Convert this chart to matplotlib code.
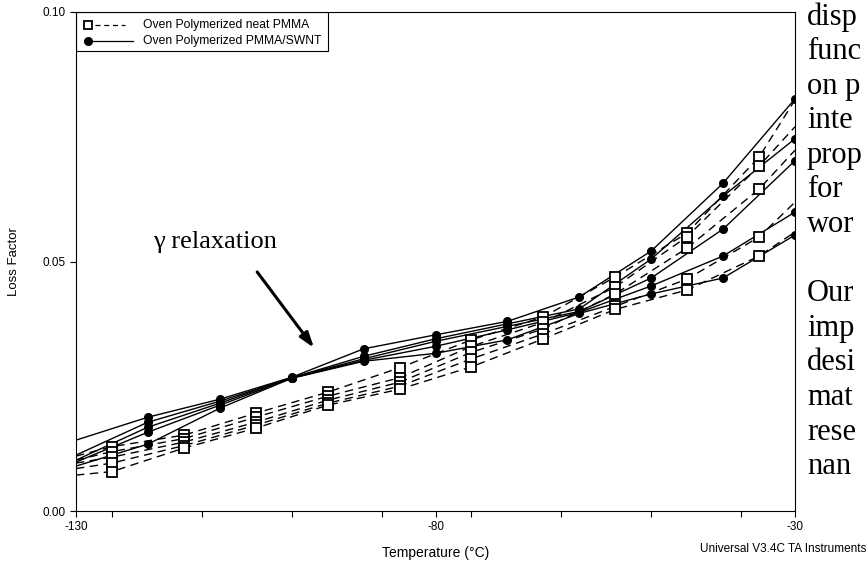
import matplotlib
matplotlib.use('Agg')
from matplotlib import pyplot as plt
from matplotlib.lines import Line2D
from matplotlib.patches import Rectangle
from matplotlib.ticker import MultipleLocator

# temperatures (deg C)
t_swnt = [-130, -120, -110, -100, -90, -80, -70, -60, -50, -40, -30]
t_neat = [-130, -125, -115, -105, -95, -85, -75, -65, -55, -45, -35, -30]

# loss factor, Oven Polymerized PMMA/SWNT (solid, filled circles)
swnt_1 = [0.0142, 0.0188, 0.0224, 0.0268, 0.0325, 0.0353, 0.0380, 0.0429, 0.0521, 0.0657, 0.0826]
swnt_2 = [0.0112, 0.0178, 0.0220, 0.0267, 0.0310, 0.0345, 0.0375, 0.0405, 0.0505, 0.0631, 0.0746]
swnt_3 = [0.0102, 0.0168, 0.0216, 0.0267, 0.0305, 0.0340, 0.0370, 0.0400, 0.0467, 0.0565, 0.0702]
swnt_4 = [0.0098, 0.0158, 0.0212, 0.0266, 0.0302, 0.0330, 0.0363, 0.0398, 0.0451, 0.0511, 0.0599]
swnt_5 = [0.0090, 0.0134, 0.0206, 0.0266, 0.0300, 0.0316, 0.0343, 0.0396, 0.0435, 0.0467, 0.0553]

# loss factor, Oven Polymerized neat PMMA (dashed, open squares)
neat_1 = [0.0110, 0.0129, 0.0152, 0.0196, 0.0238, 0.0287, 0.0343, 0.0389, 0.0469, 0.0557, 0.0709, 0.0824]
neat_2 = [0.0102, 0.0119, 0.0145, 0.0188, 0.0230, 0.0267, 0.0330, 0.0378, 0.0449, 0.0550, 0.0691, 0.0770]
neat_3 = [0.0096, 0.0108, 0.0138, 0.0178, 0.0222, 0.0258, 0.0318, 0.0365, 0.0435, 0.0527, 0.0645, 0.0723]
neat_4 = [0.0085, 0.0096, 0.0131, 0.0172, 0.0216, 0.0250, 0.0305, 0.0355, 0.0410, 0.0465, 0.0549, 0.0619]
neat_5 = [0.0072, 0.0079, 0.0126, 0.0166, 0.0212, 0.0244, 0.0289, 0.0345, 0.0404, 0.0443, 0.0511, 0.0559]

side_text = ['disp', 'func', 'on p', 'inte', 'prop', 'for', 'wor',
             '', 'Our', 'imp', 'desi', 'mat', 'rese', 'nan']

plt.rcParams['font.family'] = ['Liberation Sans', 'DejaVu Sans']
plt.rcParams['axes.unicode_minus'] = False

fig = plt.figure(figsize=(8.68, 5.61), dpi=100)
ax = fig.add_axes([76 / 868, 1 - 511 / 561, 719 / 868, 499 / 561])

for s in [swnt_1, swnt_2, swnt_3, swnt_4, swnt_5]:
    ax.plot(t_swnt, s, color='black', lw=1.0, marker='o', ms=5.5,
            markevery=list(range(1, len(t_swnt))))
for s in [neat_1, neat_2, neat_3, neat_4, neat_5]:
    ax.plot(t_neat, s, color='black', lw=1.0, ls=(0, (6, 4)), marker='s', ms=6.5,
            mfc='white', mew=1.3, markevery=list(range(1, len(t_neat) - 1)))

ax.set_xlim(-130, -30)
ax.set_ylim(0, 0.10)
ax.set_xticks([-130, -80, -30])
ax.xaxis.set_minor_locator(MultipleLocator(12.5))
ax.set_yticks([0.0, 0.05, 0.10])
ax.set_yticklabels(['0.00', '0.05', '0.10'])
ax.tick_params(axis='both', which='both', direction='out', labelsize=8.5, length=4, width=0.8)
for sp in ax.spines.values():
    sp.set_linewidth(0.8)
ax.set_xlabel('Temperature (°C)', fontsize=10, labelpad=9)
ax.set_ylabel('Loss Factor', fontsize=9.5, labelpad=16)

# legend drawn by hand so the marker sits left of the line sample
ax.add_patch(Rectangle((0, 0.921), 0.351, 0.079, transform=ax.transAxes,
                       fill=False, edgecolor='black', lw=0.8, zorder=5))
ax.add_line(Line2D([0.017], [0.974], transform=ax.transAxes, marker='s', ms=6,
                   mfc='white', mec='black', mew=1.3, zorder=6))
ax.add_line(Line2D([0.026, 0.068], [0.974, 0.974], transform=ax.transAxes,
                   color='black', lw=0.9, ls=(0, (4, 3)), zorder=6))
ax.add_line(Line2D([0.017], [0.941], transform=ax.transAxes, marker='o', ms=5.5,
                   color='black', zorder=6))
ax.add_line(Line2D([0.017, 0.079], [0.941, 0.941], transform=ax.transAxes,
                   color='black', lw=0.9, zorder=6))
ax.text(0.093, 0.974, 'Oven Polymerized neat PMMA', transform=ax.transAxes,
        fontsize=8.7, va='center', zorder=6)
ax.text(0.093, 0.941, 'Oven Polymerized PMMA/SWNT', transform=ax.transAxes,
        fontsize=8.7, va='center', zorder=6)

ax.text(-110.7, 0.0539, 'γ relaxation', fontsize=19, family='Liberation Serif',
        ha='center', va='center')
ax.annotate('', xy=(-96.9, 0.0327), xytext=(-104.8, 0.0479),
            arrowprops=dict(arrowstyle='-|>,head_length=0.9,head_width=0.3',
                            color='black', lw=2.2, shrinkA=0, shrinkB=0))

for i, line in enumerate(side_text):
    fig.text(807 / 868, 1 - (17 + i * 34.6) / 561, line, fontsize=22,
             family='Liberation Serif', va='center', ha='left')

fig.text(700 / 868, 1 - 549 / 561, 'Universal V3.4C TA Instruments',
         fontsize=8.5, va='center', ha='left')

fig.savefig('out.png', dpi=100)
